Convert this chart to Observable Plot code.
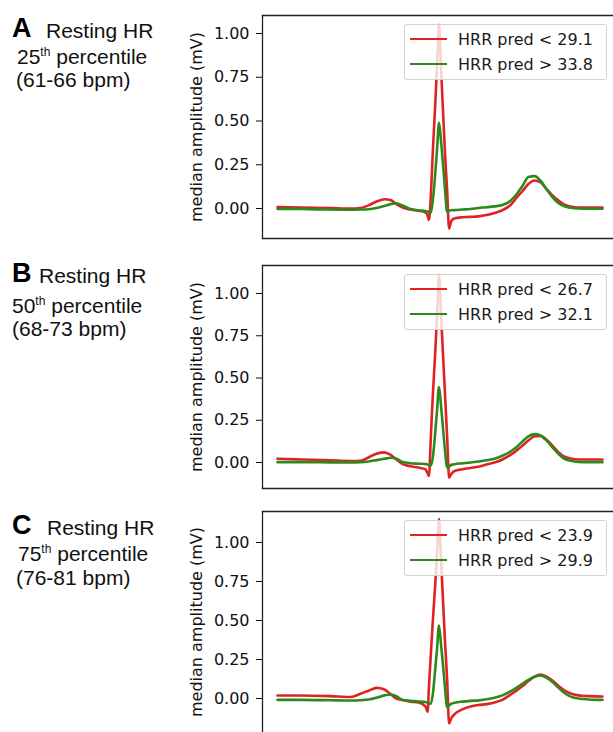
<!DOCTYPE html>
<html>
<head>
<meta charset="utf-8">
<script src="https://cdn.jsdelivr.net/npm/d3@7"></script>
<script src="https://cdn.jsdelivr.net/npm/@observablehq/plot@0.6"></script>
<style>
  html, body { margin: 0; padding: 0; background: #fff; overflow: hidden; }
  #fig { position: relative; width: 613px; height: 732px; overflow: hidden; background: #fff; }
  .panel { position: absolute; left: 0; width: 613px; }
  .panel svg { position: absolute; left: 0; top: 0; }
  .lbl { position: absolute; font-family: "Liberation Sans", Arial, sans-serif; font-size: 21px; line-height: 21px; color: #111; white-space: nowrap; }
  .lbl sup { font-size: 12px; line-height: 0; vertical-align: 0; position: relative; top: -8px; }
  .letter { position: absolute; font-family: "Liberation Sans", Arial, sans-serif; font-weight: bold; font-size: 27px; line-height: 27px; color: #000; }
  .legend { position: absolute; box-sizing: border-box; background: rgba(255,255,255,0.8); border: 1px solid #d2d2d2; border-radius: 3px; }
  .legend .sw { position: absolute; height: 0; border-top: 2.6px solid; }
  .legend .tx { position: absolute; font-family: "DejaVu Sans", sans-serif; font-size: 16px; line-height: 16px; color: #1a1a1a; white-space: nowrap; }
</style>
</head>
<body>
<div id="fig"></div>
<script>
// ---- data ----
const time = [0,71,163,225,255,280,305,329,348,366,385,409,434,455,462,466,472,478,485,491,497,503,509,515,522,528,534,545,569,594,618,643,668,692,717,735,754,772,791,809,828,846,865,883,902,926,957,1000];

const aRed = [0.008,0.006,0.003,0.000,0.003,0.018,0.040,0.053,0.048,0.025,0.006,-0.006,-0.013,-0.022,-0.040,-0.066,0.08,0.33,0.58,0.82,1.05,0.81,0.57,0.33,0.10,-0.115,-0.075,-0.056,-0.050,-0.048,-0.045,-0.037,-0.025,-0.010,0.020,0.060,0.100,0.140,0.160,0.150,0.110,0.075,0.045,0.022,0.011,0.005,0.005,0.006];
const aGreen = [-0.002,-0.003,-0.006,-0.007,-0.006,-0.004,0.003,0.015,0.025,0.030,0.017,-0.003,-0.010,-0.015,-0.017,-0.020,-0.022,0.047,0.19,0.34,0.49,0.39,0.26,0.12,-0.020,-0.012,-0.010,-0.009,-0.006,-0.003,0.003,0.007,0.012,0.020,0.045,0.080,0.130,0.180,0.185,0.160,0.110,0.065,0.030,0.012,0.004,0.000,-0.001,-0.001];

const bRed = [0.022,0.018,0.013,0.009,0.010,0.030,0.052,0.060,0.045,0.018,-0.010,-0.022,-0.030,-0.040,-0.065,-0.080,0.16,0.40,0.64,0.87,1.11,0.88,0.65,0.42,0.15,-0.090,-0.070,-0.050,-0.040,-0.032,-0.025,-0.012,0.000,0.018,0.045,0.070,0.100,0.130,0.155,0.157,0.135,0.100,0.060,0.035,0.024,0.018,0.018,0.018];
const bGreen = [0.002,0.002,0.001,0.001,0.002,0.006,0.014,0.022,0.028,0.022,0.003,-0.004,-0.007,-0.009,-0.012,-0.015,-0.018,0.03,0.17,0.31,0.446,0.34,0.21,0.08,-0.028,-0.025,-0.015,-0.010,-0.005,0.000,0.006,0.013,0.022,0.040,0.065,0.090,0.125,0.155,0.168,0.160,0.130,0.090,0.050,0.022,0.010,0.003,0.002,0.002];

const cRed = [0.019,0.019,0.015,0.010,0.030,0.050,0.068,0.058,0.028,0.000,-0.010,-0.020,-0.026,-0.050,-0.085,0.075,0.29,0.50,0.72,0.93,1.15,0.90,0.64,0.38,0.12,-0.160,-0.130,-0.100,-0.070,-0.052,-0.042,-0.036,-0.025,-0.009,0.025,0.050,0.080,0.112,0.140,0.154,0.140,0.115,0.080,0.052,0.032,0.020,0.015,0.013];
const cGreen = [-0.009,-0.009,-0.011,-0.013,-0.011,-0.007,0.005,0.020,0.026,0.015,-0.010,-0.015,-0.019,-0.023,-0.026,-0.030,-0.034,0.03,0.18,0.32,0.468,0.35,0.22,0.08,-0.056,-0.045,-0.035,-0.028,-0.020,-0.015,-0.012,-0.005,0.005,0.020,0.045,0.068,0.095,0.120,0.140,0.147,0.132,0.105,0.068,0.035,0.012,0.000,-0.006,-0.009];

const yTicks = [0, 0.25, 0.5, 0.75, 1.0];
const panelLetters = ["A", "B", "C"];
const percentiles = ["25", "50", "75"];
const bpmRanges = ["(61-66 bpm)", "(68-73 bpm)", "(76-81 bpm)"];
const legendLow = ["HRR pred < 29.1", "HRR pred < 26.7", "HRR pred < 23.9"];
const legendHigh = ["HRR pred > 33.8", "HRR pred > 32.1", "HRR pred > 29.9"];
const yLabel = "median amplitude (mV)";

// ---- layout / style ----
const RED = "#e02222";
const GREEN = "#2c8a1c";
const series = [[aRed, aGreen], [bRed, bGreen], [cRed, cGreen]];
const layout = [
  {top: 0,   height: 245, mb: 7, yDomain: [-0.1714, 1.1029], sides: ["top", "left", "bottom"],
   base: [38, 64, 87], lx: [12, 46, 17, 16]},
  {top: 250, height: 245, mb: 7, yDomain: [-0.1538, 1.1657], sides: ["top", "left", "bottom"],
   base: [33, 63, 86], lx: [12, 39, 12, 12]},
  {top: 496, height: 236, mb: 0, yDomain: [-0.218, 1.1987], sides: ["top", "left"],
   base: [39, 65, 89], lx: [12, 47, 18, 16]}
];
const xDomain = [-46.15, 1033.85];

const fig = document.getElementById("fig");

layout.forEach((L, i) => {
  const [red, green] = series[i];
  const redData = time.map((t, k) => ({t, v: red[k]}));
  const greenData = time.map((t, k) => ({t, v: green[k]}));

  const chart = Plot.plot({
    width: 613,
    height: L.height,
    marginLeft: 262,
    marginRight: 0,
    marginTop: 15,
    marginBottom: L.mb,
    style: {fontFamily: "DejaVu Sans, sans-serif", fontSize: "16px", color: "#111", background: "transparent", overflow: "visible"},
    x: {domain: xDomain, axis: null},
    y: {domain: L.yDomain, axis: null},
    marks: [
      Plot.axisY({ticks: yTicks, tickFormat: d3.format(".2f"), tickSize: 6, tickPadding: 7,
                  label: yLabel, labelAnchor: "center", labelArrow: "none", labelOffset: 72}),
      ...L.sides.map(s => Plot.frame({anchor: s, stroke: "#222", strokeWidth: 1.3})),
      Plot.line(redData, {x: "t", y: "v", stroke: RED, strokeWidth: 2.6, curve: "monotone-x"}),
      Plot.line(greenData, {x: "t", y: "v", stroke: GREEN, strokeWidth: 2.6, curve: "monotone-x"})
    ]
  });

  const panel = document.createElement("div");
  panel.className = "panel";
  panel.style.top = L.top + "px";
  panel.style.height = L.height + "px";
  panel.appendChild(chart);

  // left labels
  const letter = document.createElement("div");
  letter.className = "letter";
  letter.textContent = panelLetters[i];
  letter.style.left = L.lx[0] + "px";
  letter.style.top = (L.base[0] - 23) + "px";
  panel.appendChild(letter);

  const l1 = document.createElement("div");
  l1.className = "lbl";
  l1.textContent = "Resting HR";
  l1.style.left = L.lx[1] + "px";
  l1.style.top = (L.base[0] - 18) + "px";
  panel.appendChild(l1);

  const l2 = document.createElement("div");
  l2.className = "lbl";
  l2.innerHTML = percentiles[i] + "<sup>th</sup> percentile";
  l2.style.left = L.lx[2] + "px";
  l2.style.top = (L.base[1] - 18) + "px";
  panel.appendChild(l2);

  const l3 = document.createElement("div");
  l3.className = "lbl";
  l3.textContent = bpmRanges[i];
  l3.style.left = L.lx[3] + "px";
  l3.style.top = (L.base[2] - 18) + "px";
  panel.appendChild(l3);

  // legend
  const lg = document.createElement("div");
  lg.className = "legend";
  lg.style.left = "404px";
  lg.style.top = "24px";
  lg.style.width = "203px";
  lg.style.height = "56px";
  [[legendLow[i], RED, 14], [legendHigh[i], GREEN, 39]].forEach(([txt, col, y]) => {
    const sw = document.createElement("div");
    sw.className = "sw";
    sw.style.borderTopColor = col;
    sw.style.left = "5px";
    sw.style.width = "37px";
    sw.style.top = (y - 1) + "px";
    lg.appendChild(sw);
    const tx = document.createElement("div");
    tx.className = "tx";
    tx.textContent = txt;
    tx.style.left = "53px";
    tx.style.top = (y + 6 - 13.5) + "px";
    lg.appendChild(tx);
  });
  panel.appendChild(lg);

  fig.appendChild(panel);
});
</script>
</body>
</html>
